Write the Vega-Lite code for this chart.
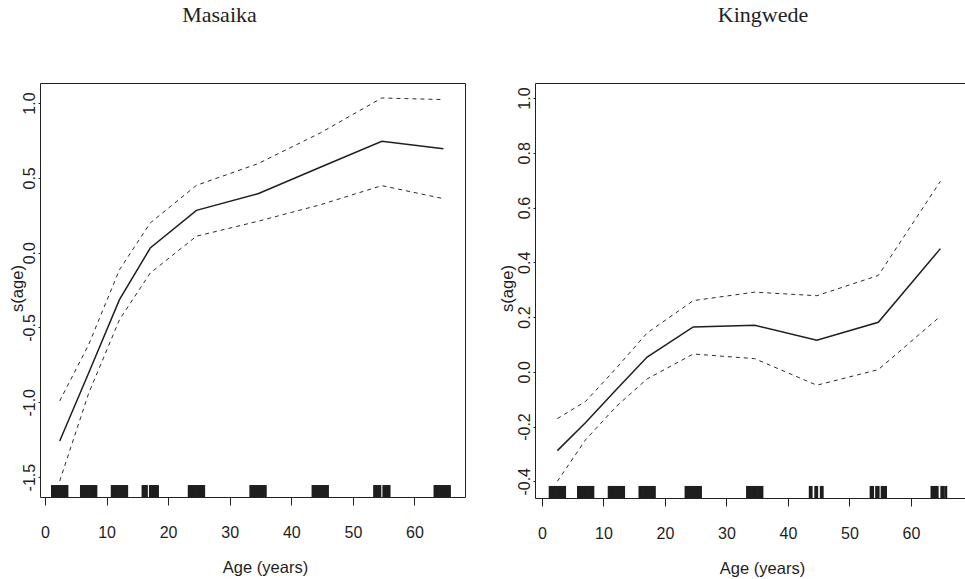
{
  "$schema": "https://vega.github.io/schema/vega-lite/v6.json",
  "background": "white",
  "padding": {"left": 8, "top": 3, "right": 0, "bottom": 0},
  "spacing": 32,
  "config": {
    "view": {"stroke": "#222", "strokeWidth": 1},
    "axis": {"domain": false, "grid": false, "tickColor": "#222", "labelColor": "#1e1e1e", "titleColor": "#1e1e1e", "labelFont": "Liberation Sans", "titleFont": "Liberation Sans", "labelFontSize": 16, "titleFontSize": 16.5, "titleFontWeight": "normal"},
    "title": {"font": "Liberation Serif", "fontSize": 22, "fontWeight": "normal", "color": "#222"}
  },
  "datasets": {
    "masaika": [
      {"age": 2.4, "fit": -1.259, "lower": -1.526, "upper": -0.991},
      {"age": 7.1, "fit": -0.804, "lower": -0.94, "upper": -0.615},
      {"age": 12.1, "fit": -0.314, "lower": -0.448, "upper": -0.114},
      {"age": 17.1, "fit": 0.031, "lower": -0.136, "upper": 0.199},
      {"age": 24.6, "fit": 0.283, "lower": 0.11, "upper": 0.45},
      {"age": 34.6, "fit": 0.394, "lower": 0.21, "upper": 0.595},
      {"age": 44.7, "fit": 0.571, "lower": 0.32, "upper": 0.8},
      {"age": 54.7, "fit": 0.745, "lower": 0.448, "upper": 1.034},
      {"age": 64.7, "fit": 0.695, "lower": 0.361, "upper": 1.023}
    ],
    "kingwede": [
      {"age": 2.5, "fit": -0.288, "lower": -0.4, "upper": -0.171},
      {"age": 7.1, "fit": -0.185, "lower": -0.248, "upper": -0.108},
      {"age": 12.1, "fit": -0.065, "lower": -0.126, "upper": 0.014},
      {"age": 17.1, "fit": 0.054, "lower": -0.026, "upper": 0.142},
      {"age": 24.6, "fit": 0.164, "lower": 0.065, "upper": 0.26},
      {"age": 34.6, "fit": 0.17, "lower": 0.048, "upper": 0.291},
      {"age": 44.7, "fit": 0.115, "lower": -0.049, "upper": 0.278},
      {"age": 54.7, "fit": 0.181, "lower": 0.008, "upper": 0.352},
      {"age": 64.8, "fit": 0.45, "lower": 0.203, "upper": 0.696}
    ],
    "rugM": [
      {"age": 1.2}, {"age": 1.5}, {"age": 1.8}, {"age": 2.1}, {"age": 2.4}, {"age": 2.7}, {"age": 3.0}, {"age": 3.3}, {"age": 3.6},
      {"age": 5.9}, {"age": 6.2}, {"age": 6.5}, {"age": 6.8}, {"age": 7.1}, {"age": 7.4}, {"age": 7.7}, {"age": 8.0}, {"age": 8.3},
      {"age": 10.9}, {"age": 11.2}, {"age": 11.5}, {"age": 11.8}, {"age": 12.1}, {"age": 12.4}, {"age": 12.7}, {"age": 13.0}, {"age": 13.3},
      {"age": 15.9}, {"age": 16.2}, {"age": 16.5}, {"age": 17.1}, {"age": 17.4}, {"age": 17.7}, {"age": 18.0}, {"age": 18.3},
      {"age": 23.4}, {"age": 23.7}, {"age": 24.0}, {"age": 24.3}, {"age": 24.6}, {"age": 24.9}, {"age": 25.2}, {"age": 25.5}, {"age": 25.8},
      {"age": 33.4}, {"age": 33.7}, {"age": 34.0}, {"age": 34.3}, {"age": 34.6}, {"age": 34.9}, {"age": 35.2}, {"age": 35.5}, {"age": 35.8},
      {"age": 43.5}, {"age": 43.8}, {"age": 44.1}, {"age": 44.4}, {"age": 44.7}, {"age": 45.0}, {"age": 45.3}, {"age": 45.6}, {"age": 45.9},
      {"age": 53.5}, {"age": 53.8}, {"age": 54.1}, {"age": 54.4}, {"age": 55.0}, {"age": 55.3}, {"age": 55.6}, {"age": 55.9},
      {"age": 63.3}, {"age": 63.6}, {"age": 63.9}, {"age": 64.2}, {"age": 64.5}, {"age": 64.8}, {"age": 65.1}, {"age": 65.4}, {"age": 65.7}
    ],
    "rugK": [
      {"age": 1.3}, {"age": 1.6}, {"age": 1.9}, {"age": 2.2}, {"age": 2.5}, {"age": 2.8}, {"age": 3.1}, {"age": 3.4}, {"age": 3.7},
      {"age": 5.9}, {"age": 6.2}, {"age": 6.5}, {"age": 6.8}, {"age": 7.1}, {"age": 7.4}, {"age": 7.7}, {"age": 8.0}, {"age": 8.3},
      {"age": 10.9}, {"age": 11.2}, {"age": 11.5}, {"age": 11.8}, {"age": 12.1}, {"age": 12.4}, {"age": 12.7}, {"age": 13.0}, {"age": 13.3},
      {"age": 15.9}, {"age": 16.2}, {"age": 16.5}, {"age": 16.8}, {"age": 17.1}, {"age": 17.4}, {"age": 17.7}, {"age": 18.0}, {"age": 18.3},
      {"age": 23.4}, {"age": 23.7}, {"age": 24.0}, {"age": 24.3}, {"age": 24.6}, {"age": 24.9}, {"age": 25.2}, {"age": 25.5}, {"age": 25.8},
      {"age": 33.4}, {"age": 33.7}, {"age": 34.0}, {"age": 34.3}, {"age": 34.6}, {"age": 34.9}, {"age": 35.2}, {"age": 35.5}, {"age": 35.8},
      {"age": 43.6}, {"age": 43.8}, {"age": 44.5}, {"age": 44.7}, {"age": 45.4}, {"age": 45.6},
      {"age": 53.5}, {"age": 53.8}, {"age": 54.4}, {"age": 54.7}, {"age": 55.3}, {"age": 55.6}, {"age": 55.9},
      {"age": 63.4}, {"age": 63.7}, {"age": 64.0}, {"age": 64.3}, {"age": 65.0}, {"age": 65.3}, {"age": 65.7}
    ]
  },
  "hconcat": [
    {
      "title": {"text": "Masaika", "dx": -33, "offset": 56},
      "width": 425,
      "height": 414,
      "layer": [
        {
          "data": {"name": "masaika"},
          "mark": {"type": "line", "color": "#1e1e1e", "strokeWidth": 1.5},
          "encoding": {
            "x": {"field": "age", "type": "quantitative", "title": "Age (years)", "scale": {"domain": [-0.8, 68.2], "nice": false, "zero": false},
              "axis": {"values": [0, 10, 20, 30, 40, 50, 60], "tickSize": 8, "labelPadding": 19, "titleX": 225, "titleY": 70, "titleBaseline": "middle"}},
            "y": {"field": "fit", "type": "quantitative", "title": "s(age)", "scale": {"domain": [-1.633, 1.134], "nice": false, "zero": false},
              "axis": {"values": [-1.5, -1, -0.5, 0, 0.5, 1], "labelExpr": "replace(format(datum.value, '.1f'), '\u2212', '-')", "labelAngle": 270, "tickSize": 2, "labelPadding": 1, "titleAngle": 270, "titleX": -23, "titleY": 205, "titleAlign": "center", "titleBaseline": "middle"}}
          }
        },
        {
          "data": {"name": "masaika"},
          "mark": {"type": "line", "color": "#2a2a2a", "strokeWidth": 1, "strokeDash": [4, 4]},
          "encoding": {
            "x": {"field": "age", "type": "quantitative", "title": "Age (years)"},
            "y": {"field": "upper", "type": "quantitative", "title": "s(age)"}
          }
        },
        {
          "data": {"name": "masaika"},
          "mark": {"type": "line", "color": "#2a2a2a", "strokeWidth": 1, "strokeDash": [4, 4]},
          "encoding": {
            "x": {"field": "age", "type": "quantitative", "title": "Age (years)"},
            "y": {"field": "lower", "type": "quantitative", "title": "s(age)"}
          }
        },
        {
          "data": {"name": "rugM"},
          "mark": {"type": "rule", "color": "#1e1e1e", "strokeWidth": 2.6},
          "encoding": {
            "x": {"field": "age", "type": "quantitative", "title": "Age (years)"},
            "y": {"datum": -1.633},
            "y2": {"datum": -1.553}
          }
        }
      ]
    },
    {
      "title": {"text": "Kingwede", "dx": 13, "offset": 56},
      "width": 430,
      "height": 415,
      "layer": [
        {
          "data": {"name": "kingwede"},
          "mark": {"type": "line", "color": "#1e1e1e", "strokeWidth": 1.5},
          "encoding": {
            "x": {"field": "age", "type": "quantitative", "title": "Age (years)", "scale": {"domain": [-1.14, 68.8], "nice": false, "zero": false},
              "axis": {"values": [0, 10, 20, 30, 40, 50, 60], "tickSize": 8, "labelPadding": 19, "titleX": 227, "titleY": 70, "titleBaseline": "middle"}},
            "y": {"field": "fit", "type": "quantitative", "title": "s(age)", "scale": {"domain": [-0.461, 1.055], "nice": false, "zero": false},
              "axis": {"values": [-0.4, -0.2, 0, 0.2, 0.4, 0.6, 0.8, 1], "labelExpr": "replace(format(datum.value, '.1f'), '\u2212', '-')", "labelAngle": 270, "tickSize": 2, "labelPadding": 1, "titleAngle": 270, "titleX": -28, "titleY": 205, "titleAlign": "center", "titleBaseline": "middle"}}
          }
        },
        {
          "data": {"name": "kingwede"},
          "mark": {"type": "line", "color": "#2a2a2a", "strokeWidth": 1, "strokeDash": [4, 4]},
          "encoding": {
            "x": {"field": "age", "type": "quantitative", "title": "Age (years)"},
            "y": {"field": "upper", "type": "quantitative", "title": "s(age)"}
          }
        },
        {
          "data": {"name": "kingwede"},
          "mark": {"type": "line", "color": "#2a2a2a", "strokeWidth": 1, "strokeDash": [4, 4]},
          "encoding": {
            "x": {"field": "age", "type": "quantitative", "title": "Age (years)"},
            "y": {"field": "lower", "type": "quantitative", "title": "s(age)"}
          }
        },
        {
          "data": {"name": "rugK"},
          "mark": {"type": "rule", "color": "#1e1e1e", "strokeWidth": 2.6},
          "encoding": {
            "x": {"field": "age", "type": "quantitative", "title": "Age (years)"},
            "y": {"datum": -0.461},
            "y2": {"datum": -0.417}
          }
        }
      ]
    }
  ]
}
